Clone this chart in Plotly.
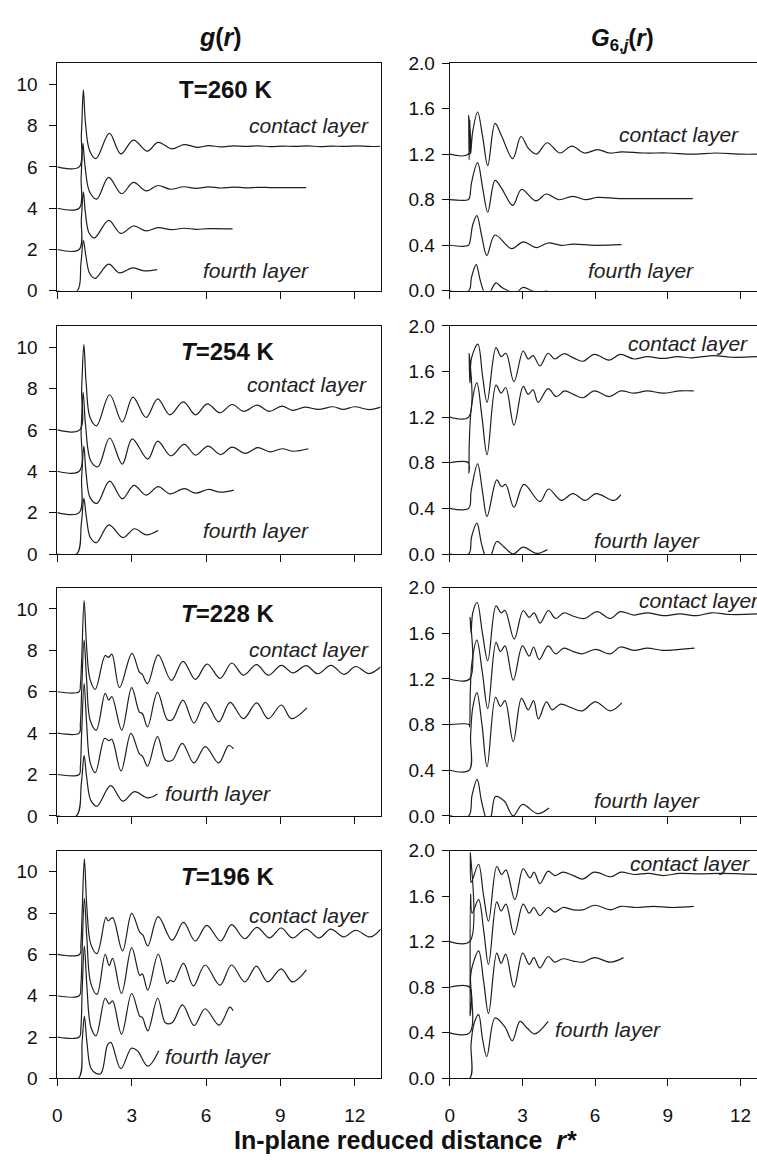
import plotly.graph_objects as go

# ---------------------------------------------------------------------------
# In-plane structure of the water layers at four temperatures.
# Left column: radial distribution g(r) (layers shifted by 0, 2, 4, 6).
# Right column: bond-orientational correlation G6,j(r) (shifted by 0, .4, .8, 1.2).
# Each curve is a list of (r*, shifted value) points.
# ---------------------------------------------------------------------------

temperatures = ["260", "254", "228", "196"]
x_ticks = [0, 3, 6, 9, 12]
g_ticks = [0, 2, 4, 6, 8, 10]
G6_ticks = [0.0, 0.4, 0.8, 1.2, 1.6, 2.0]

# ---- T = 260 K -------------------------------------------------------------
g260_contact = [(0, 6), (0.88, 6), (0.97, 7.6), (1.05, 9.73), (1.13, 8.2), (1.3, 6.8), (1.56, 6.4),
                (2.1, 7.62), (2.56, 6.63), (3.07, 7.3), (3.63, 6.76), (4.06, 7.19), (4.63, 6.87),
                (5.1, 7.08), (5.64, 6.95), (6.1, 7.03), (6.6, 6.97), (7.1, 7.02), (7.6, 6.99),
                (8.1, 7.02), (8.6, 6.98), (9.1, 7.01), (9.6, 6.99), (10.1, 7.02), (10.6, 6.98),
                (11.1, 7.01), (11.6, 6.99), (12.1, 7.02), (12.6, 6.99), (13.05, 7.0)]
g260_second = [(0, 4), (0.88, 4), (0.96, 5.5), (1.03, 7.14), (1.12, 6.0), (1.3, 4.8), (1.59, 4.44),
               (2.07, 5.49), (2.59, 4.7), (3.07, 5.25), (3.59, 4.84), (4.06, 5.1), (4.57, 4.92),
               (5.1, 5.04), (5.6, 4.96), (6.1, 5.03), (6.6, 4.98), (7.1, 5.02), (7.6, 4.99),
               (8.1, 5.01), (8.6, 5.0), (9.1, 5.0), (10.04, 5.0)]
g260_third = [(0, 2), (0.88, 2), (0.97, 3.5), (1.05, 4.78), (1.13, 3.8), (1.28, 2.8), (1.5, 2.56),
              (2.07, 3.41), (2.56, 2.78), (3.07, 3.14), (3.59, 2.9), (4.06, 3.06), (4.6, 2.96),
              (5.1, 3.03), (5.6, 2.98), (6.1, 3.01), (7.07, 3.0)]
g260_fourth = [(0, 0), (0.8, 0), (0.95, 1.3), (1.05, 2.43), (1.15, 1.7), (1.3, 0.85), (1.52, 0.6),
               (2.07, 1.29), (2.5, 0.87), (3.03, 1.11), (3.5, 0.97), (4.03, 1.03)]

G260_contact = [(0, 1.2), (0.76, 1.2), (0.78, 1.54), (0.8, 1.15), (0.83, 1.5), (0.86, 1.2), (0.95, 1.4),
                (1.15, 1.57), (1.36, 1.35), (1.57, 1.1), (1.87, 1.47), (2.14, 1.36), (2.6, 1.16),
                (2.94, 1.355), (3.25, 1.25), (3.58, 1.2), (4.02, 1.3), (4.54, 1.21), (5.04, 1.27),
                (5.56, 1.21), (6.1, 1.24), (6.6, 1.21), (7.1, 1.22), (8, 1.21), (9, 1.21), (10, 1.2),
                (11, 1.21), (12, 1.2), (12.7, 1.2)]
G260_second = [(0, 0.8), (0.76, 0.8), (0.82, 0.82), (0.9, 0.95), (1.15, 1.125), (1.36, 0.9), (1.57, 0.69),
               (1.87, 0.97), (2.14, 0.9), (2.6, 0.75), (2.96, 0.89), (3.55, 0.79), (3.99, 0.85),
               (4.5, 0.8), (5.08, 0.83), (5.6, 0.8), (6.1, 0.82), (7, 0.81), (8, 0.81), (9, 0.81),
               (10.03, 0.81)]
G260_third = [(0, 0.4), (0.77, 0.4), (0.85, 0.45), (0.95, 0.58), (1.12, 0.66), (1.32, 0.48), (1.53, 0.31),
              (1.87, 0.49), (2.55, 0.37), (3.03, 0.43), (3.58, 0.38), (4.06, 0.42), (4.6, 0.4),
              (5.1, 0.41), (6, 0.4), (7.09, 0.405)]
G260_fourth = [(0, 0), (0.78, 0), (0.9, 0.12), (1.09, 0.23), (1.25, 0.1), (1.39, 0.0), (1.55, -0.08),
               (1.7, 0.0), (1.91, 0.07), (2.15, 0.03), (2.42, 0.0), (2.7, -0.02), (3.03, 0.03),
               (3.4, 0.0), (3.7, -0.01), (4.02, 0.0)]

# ---- T = 254 K -------------------------------------------------------------
g254_contact = [(0, 6), (0.9, 6), (0.98, 8.0), (1.07, 10.13), (1.16, 8.3), (1.32, 6.6), (1.58, 6.2),
                (2.11, 7.7), (2.62, 6.39), (3.05, 7.59), (3.58, 6.6), (4.05, 7.5), (4.54, 6.73),
                (5.08, 7.36), (5.58, 6.73), (6.05, 7.26), (6.56, 6.83), (7.05, 7.23), (7.52, 6.9),
                (8.06, 7.2), (8.55, 6.9), (9.06, 7.15), (9.5, 6.95), (9.99, 7.1), (10.53, 6.99),
                (11.13, 7.12), (11.53, 6.99), (12.0, 7.12), (12.6, 6.98), (13.05, 7.1)]
g254_second = [(0, 4), (0.88, 4), (0.96, 6.0), (1.04, 7.82), (1.14, 6.2), (1.35, 4.5), (1.64, 4.22),
               (2.11, 5.61), (2.62, 4.35), (3.02, 5.57), (3.65, 4.59), (4.05, 5.46), (4.58, 4.75),
               (5.12, 5.3), (5.58, 4.78), (6.08, 5.22), (6.59, 4.81), (7.05, 5.17), (7.59, 4.87),
               (8.08, 5.14), (8.59, 4.94), (9.06, 5.09), (9.53, 4.97), (10.13, 5.09)]
g254_third = [(0, 2), (0.88, 2), (0.98, 3.7), (1.07, 5.22), (1.16, 3.9), (1.33, 2.7), (1.6, 2.45),
              (2.11, 3.52), (2.62, 2.67), (3.09, 3.32), (3.58, 2.85), (4.07, 3.26), (4.54, 2.91),
              (5.12, 3.16), (5.58, 2.94), (6.08, 3.12), (6.59, 2.99), (7.12, 3.09)]
g254_fourth = [(0, 0), (0.78, 0), (0.97, 1.5), (1.07, 2.69), (1.17, 1.8), (1.33, 0.8), (1.58, 0.55),
               (2.08, 1.41), (2.65, 0.79), (3.11, 1.22), (3.58, 0.93), (4.07, 1.14)]

G254_contact = [(0, 1.2), (0.78, 1.2), (0.8, 1.76), (0.83, 1.5), (0.9, 1.72), (1.16, 1.84), (1.36, 1.55),
                (1.54, 1.33), (1.91, 1.81), (2.12, 1.73), (2.32, 1.76), (2.65, 1.51), (3.03, 1.78),
                (3.24, 1.71), (3.44, 1.74), (3.72, 1.65), (4.06, 1.76), (4.33, 1.71), (4.7, 1.756),
                (5.1, 1.72), (5.49, 1.69), (5.97, 1.75), (6.58, 1.70), (7.04, 1.75), (7.6, 1.71),
                (8.15, 1.73), (8.8, 1.715), (9.4, 1.73), (10.0, 1.72), (10.9, 1.74), (11.6, 1.725),
                (12.7, 1.73)]
G254_second = [(0, 0.8), (0.77, 0.8), (0.79, 0.71), (0.81, 1.0), (0.9, 1.3), (1.12, 1.5), (1.33, 1.2),
               (1.54, 0.87), (1.91, 1.48), (2.12, 1.41), (2.31, 1.46), (2.65, 1.13), (3.03, 1.47),
               (3.24, 1.4), (3.44, 1.44), (3.65, 1.33), (4.06, 1.45), (4.4, 1.38), (4.74, 1.43),
               (5.1, 1.4), (5.49, 1.37), (5.97, 1.43), (6.58, 1.38), (7.06, 1.43), (7.6, 1.41),
               (8.15, 1.43), (8.8, 1.41), (9.5, 1.43), (10.07, 1.43)]
G254_third = [(0, 0.4), (0.78, 0.4), (0.88, 0.55), (1.15, 0.79), (1.35, 0.55), (1.54, 0.33), (1.94, 0.65),
              (2.14, 0.59), (2.31, 0.61), (2.65, 0.41), (3.06, 0.61), (3.72, 0.46), (4.08, 0.57),
              (4.6, 0.47), (5.08, 0.53), (5.59, 0.47), (6.04, 0.53), (6.79, 0.47), (7.06, 0.52)]
G254_fourth = [(0, 0), (0.78, 0), (0.9, 0.15), (1.12, 0.27), (1.3, 0.1), (1.43, 0.0), (1.58, -0.06),
               (1.73, 0.0), (1.94, 0.11), (2.25, 0.06), (2.62, 0.0), (3.03, 0.06), (3.58, 0.005),
               (4.03, 0.04)]

# ---- T = 228 K -------------------------------------------------------------
g228_contact = [(0, 6), (0.88, 6), (0.93, 6.36), (0.98, 7.5), (1.08, 10.4), (1.18, 8.2), (1.32, 6.6),
                (1.53, 6.12), (1.93, 7.75), (2.07, 7.66), (2.2, 7.82), (2.51, 6.2), (3.01, 7.86),
                (3.31, 6.95), (3.42, 6.85), (3.64, 6.39), (4.07, 7.78), (4.6, 6.55), (5.07, 7.47),
                (5.57, 6.6), (6.04, 7.34), (6.57, 6.65), (7.04, 7.39), (7.51, 6.8), (8.04, 7.31),
                (8.51, 6.8), (9.04, 7.28), (9.51, 6.91), (10.04, 7.26), (10.51, 6.87), (11.04, 7.28),
                (11.57, 6.84), (12.04, 7.22), (12.57, 6.88), (13.04, 7.2)]
g228_second = [(0, 4), (0.88, 4), (0.93, 4.46), (0.98, 6.0), (1.08, 8.5), (1.18, 6.6), (1.33, 4.6),
               (1.57, 4.15), (1.93, 5.92), (2.07, 5.6), (2.2, 5.76), (2.6, 4.15), (3.0, 6.2),
               (3.31, 5.02), (3.43, 4.95), (3.64, 4.3), (4.04, 5.97), (4.44, 4.65), (4.64, 4.65),
               (5.07, 5.6), (5.51, 4.49), (5.97, 5.49), (6.51, 4.54), (6.97, 5.49), (7.51, 4.7),
               (8.04, 5.46), (8.51, 4.7), (9.04, 5.36), (9.44, 4.7), (10.07, 5.22)]
g228_third = [(0, 2), (0.88, 2), (0.93, 2.4), (0.98, 4.0), (1.08, 6.4), (1.18, 4.5), (1.32, 2.6),
              (1.53, 2.09), (1.91, 3.75), (2.07, 3.64), (2.2, 3.7), (2.57, 2.17), (2.97, 3.99),
              (3.31, 3.0), (3.44, 2.88), (3.64, 2.4), (4.04, 3.83), (4.37, 2.69), (4.64, 2.69),
              (5.04, 3.51), (5.51, 2.56), (5.97, 3.35), (6.51, 2.56), (6.91, 3.4), (7.11, 3.24)]
g228_fourth = [(0, 0), (0.77, 0), (0.97, 1.6), (1.08, 2.91), (1.18, 1.9), (1.35, 0.75), (1.6, 0.47),
               (2.15, 1.46), (2.64, 0.71), (3.11, 1.17), (3.64, 0.87), (4.04, 1.06)]

G228_contact = [(0, 1.2), (0.82, 1.2), (0.84, 1.74), (0.88, 1.6), (0.95, 1.78), (1.13, 1.87), (1.35, 1.6),
                (1.57, 1.36), (1.91, 1.84), (2.12, 1.78), (2.28, 1.8), (2.66, 1.55), (3.03, 1.8),
                (3.28, 1.74), (3.48, 1.78), (3.73, 1.69), (4.07, 1.8), (4.37, 1.73), (4.71, 1.78),
                (5.1, 1.75), (5.56, 1.73), (6.08, 1.79), (6.63, 1.73), (7.04, 1.79), (7.6, 1.76),
                (8.15, 1.78), (8.8, 1.755), (9.5, 1.77), (10.2, 1.755), (10.8, 1.78), (11.6, 1.765),
                (12.7, 1.77)]
G228_second = [(0, 0.8), (0.8, 0.8), (0.82, 0.78), (0.85, 1.1), (0.92, 1.35), (1.12, 1.54), (1.35, 1.25),
               (1.57, 0.94), (1.91, 1.52), (2.09, 1.44), (2.28, 1.49), (2.62, 1.19), (3.0, 1.49),
               (3.28, 1.4), (3.46, 1.48), (3.69, 1.37), (4.06, 1.49), (4.37, 1.42), (4.71, 1.47),
               (5.1, 1.44), (5.46, 1.42), (6.01, 1.46), (6.63, 1.42), (7.04, 1.48), (7.6, 1.45),
               (8.15, 1.47), (8.8, 1.45), (9.5, 1.46), (10.1, 1.47)]
G228_third = [(0, 0.4), (0.8, 0.4), (0.86, 0.7), (0.95, 0.95), (1.12, 1.08), (1.33, 0.8), (1.54, 0.43),
              (1.89, 1.04), (2.09, 0.96), (2.28, 1.01), (2.62, 0.65), (2.96, 1.03), (3.24, 0.93),
              (3.46, 1.01), (3.66, 0.85), (3.99, 1.0), (4.23, 0.93), (4.58, 0.98), (5.0, 0.95),
              (5.46, 0.92), (6.01, 1.0), (6.63, 0.92), (7.1, 0.99)]
G228_fourth = [(0, 0), (0.78, 0), (0.92, 0.18), (1.13, 0.32), (1.3, 0.14), (1.46, 0.0), (1.58, -0.06),
               (1.71, 0.0), (1.89, 0.17), (2.25, 0.13), (2.62, 0.0), (3.0, 0.1), (3.62, 0.02),
               (4.1, 0.07)]

# ---- T = 196 K -------------------------------------------------------------
g196_contact = [(0, 6), (0.9, 6), (0.95, 6.49), (1.0, 8.0), (1.09, 10.63), (1.19, 8.3), (1.35, 6.5),
                (1.6, 6.04), (1.96, 7.8), (2.05, 7.63), (2.23, 7.78), (2.63, 6.17), (3.0, 7.99),
                (3.33, 7.07), (3.45, 6.95), (3.65, 6.41), (4.07, 7.83), (4.63, 6.69), (5.09, 7.55),
                (5.56, 6.65), (6.03, 7.41), (6.59, 6.65), (7.03, 7.44), (7.56, 6.76), (8.05, 7.31),
                (8.56, 6.8), (9.03, 7.28), (9.49, 6.8), (10.03, 7.23), (10.56, 6.8), (11.03, 7.23),
                (11.56, 6.85), (12.03, 7.17), (12.63, 6.85), (13.05, 7.23)]
g196_second = [(0, 4), (0.88, 4), (0.95, 4.51), (1.0, 6.2), (1.09, 8.7), (1.19, 6.8), (1.35, 4.6),
               (1.6, 4.07), (1.93, 6.01), (2.09, 5.46), (2.23, 5.81), (2.59, 4.11), (3.0, 6.33),
               (3.33, 4.98), (3.43, 5.06), (3.65, 4.27), (4.07, 6.01), (4.43, 4.59), (4.56, 4.75),
               (4.7, 4.68), (5.09, 5.57), (5.49, 4.48), (5.96, 5.49), (6.56, 4.51), (7.03, 5.49),
               (7.56, 4.67), (8.03, 5.43), (8.49, 4.67), (9.03, 5.3), (9.49, 4.67), (10.05, 5.25)]
g196_third = [(0, 2), (0.88, 2), (0.95, 2.46), (1.0, 4.2), (1.09, 6.4), (1.19, 4.5), (1.35, 2.5),
              (1.56, 2.06), (1.93, 3.88), (2.09, 3.6), (2.23, 3.75), (2.59, 2.14), (3.0, 4.11),
              (3.33, 3.0), (3.43, 2.95), (3.65, 2.3), (4.05, 3.88), (4.36, 2.69), (4.63, 2.69),
              (5.05, 3.56), (5.52, 2.56), (5.96, 3.37), (6.53, 2.58), (6.96, 3.45), (7.09, 3.28)]
g196_fourth = [(0, 0), (0.85, 0), (1.0, 1.8), (1.09, 3.0), (1.19, 1.8), (1.35, 0.5), (1.56, 0.24),
               (1.76, 0.24), (2.03, 1.63), (2.16, 1.74), (2.56, 0.47), (2.99, 1.46), (3.23, 1.34),
               (3.65, 0.59), (4.09, 1.34)]

G196_contact = [(0, 1.2), (0.82, 1.2), (0.85, 1.98), (0.88, 1.72), (0.95, 1.75), (1.19, 1.88), (1.4, 1.6),
                (1.6, 1.38), (1.94, 1.86), (2.14, 1.79), (2.32, 1.83), (2.69, 1.57), (3.03, 1.84),
                (3.31, 1.76), (3.48, 1.81), (3.72, 1.71), (4.06, 1.82), (4.33, 1.78), (4.67, 1.81),
                (5.1, 1.78), (5.49, 1.75), (5.97, 1.81), (6.65, 1.77), (7.06, 1.81), (7.6, 1.79),
                (8.2, 1.8), (8.8, 1.78), (9.5, 1.8), (10.3, 1.795), (11.2, 1.8), (12.7, 1.79)]
G196_second = [(0, 0.8), (0.82, 0.8), (0.84, 0.55), (0.86, 1.62), (0.92, 1.45), (1.19, 1.57), (1.4, 1.3),
               (1.6, 1.0), (1.94, 1.55), (2.12, 1.47), (2.32, 1.53), (2.66, 1.26), (3.03, 1.53),
               (3.28, 1.45), (3.47, 1.5), (3.72, 1.43), (4.06, 1.5), (4.33, 1.46), (4.67, 1.5),
               (5.1, 1.48), (5.49, 1.48), (5.97, 1.52), (6.65, 1.48), (7.06, 1.51), (7.7, 1.5),
               (8.4, 1.51), (9.2, 1.5), (10.07, 1.51)]
G196_third = [(0, 0.4), (0.82, 0.4), (0.86, 0.9), (0.95, 1.0), (1.19, 1.12), (1.4, 0.85), (1.6, 0.57),
              (1.94, 1.1), (2.12, 1.01), (2.31, 1.09), (2.65, 0.8), (3.01, 1.1), (3.28, 1.0),
              (3.47, 1.06), (3.72, 0.97), (4.06, 1.07), (4.33, 1.02), (4.67, 1.05), (5.1, 1.03),
              (5.49, 1.02), (5.97, 1.06), (6.63, 1.02), (7.17, 1.06)]
G196_fourth = [(0, 0), (0.82, 0), (0.88, 0.3), (1.0, 0.48), (1.19, 0.56), (1.35, 0.35), (1.53, 0.19),
               (1.87, 0.53), (2.28, 0.45), (2.58, 0.33), (2.9, 0.5), (3.2, 0.44), (3.51, 0.39),
               (4.06, 0.5)]

g_curves = [
    [g260_contact, g260_second, g260_third, g260_fourth],
    [g254_contact, g254_second, g254_third, g254_fourth],
    [g228_contact, g228_second, g228_third, g228_fourth],
    [g196_contact, g196_second, g196_third, g196_fourth],
]
G6_curves = [
    [G260_contact, G260_second, G260_third, G260_fourth],
    [G254_contact, G254_second, G254_third, G254_fourth],
    [G228_contact, G228_second, G228_third, G228_fourth],
    [G196_contact, G196_second, G196_third, G196_fourth],
]

# panel labels: (r, value) anchor of each text
temp_label_pos = [(6.8, 9.76), (6.87, 9.81), (6.87, 9.76), (6.87, 9.78)]
g_contact_pos = [(10.17, 8.0), (10.07, 8.18), (10.17, 8.02), (10.17, 7.9)]
g_fourth_pos = [(8.0, 0.97), (8.0, 1.14), (6.49, 1.06), (6.49, 1.07)]
G6_contact_pos = [(9.46, 1.37), (9.83, 1.85), (10.3, 1.89), (9.93, 1.89)]
G6_fourth_pos = [(7.9, 0.18), (8.15, 0.12), (8.15, 0.135), (6.53, 0.43)]

# ---------------------------------------------------------------------------
W, H = 757, 1164
FONT = "Liberation Sans, Arial, Helvetica, sans-serif"
INK = "#111111"
LINE = "#1e1e1e"

# panel frames in pixels: (top, bottom) per row; (left, right) per column
row_px = [(54, 286), (321.7, 554), (588.3, 820.7), (856, 1088)]
col_px = [(52.7, 378), (447.7, 757)]
x_ranges = [[0, 13.04], [0, 12.68]]
y_ranges = [[0, 11.03], [0, 2.0]]

fig = go.Figure()
layout = {}

for r in range(4):
    for c in range(2):
        k = r * 2 + c + 1
        xa = "x" if k == 1 else f"x{k}"
        ya = "y" if k == 1 else f"y{k}"
        top, bot = row_px[r]
        left, right = col_px[c]
        bottom_row = r == 3

        layout[f"xaxis{k}"] = dict(
            domain=[left / W, right / W], anchor=ya, range=x_ranges[c],
            tickvals=x_ticks, ticks="outside", ticklen=7, tickwidth=1, tickcolor=INK,
            showticklabels=bottom_row, ticklabelstandoff=13,
            tickfont=dict(family=FONT, size=19, color=INK),
            showline=True, linecolor=INK, linewidth=1, mirror=True,
            showgrid=False, zeroline=False,
        )
        layout[f"yaxis{k}"] = dict(
            domain=[1 - bot / H, 1 - top / H], anchor=xa, range=y_ranges[c],
            tickvals=g_ticks if c == 0 else G6_ticks,
            tickformat="d" if c == 0 else ".1f",
            ticks="outside", ticklen=7, tickwidth=1, tickcolor=INK,
            ticklabelstandoff=8 if c == 0 else 3,
            tickfont=dict(family=FONT, size=19, color=INK),
            showline=True, linecolor=INK, linewidth=1, mirror=(c == 0),
            showgrid=False, zeroline=False,
        )

        curves = g_curves[r] if c == 0 else G6_curves[r]
        for pts in curves:
            fig.add_trace(go.Scatter(
                x=[p[0] for p in pts], y=[p[1] for p in pts],
                mode="lines", xaxis=xa, yaxis=ya,
                line=dict(color=LINE, width=1.2, shape="spline", smoothing=1.0),
                hoverinfo="skip", showlegend=False,
            ))

annotations = []
for r in range(4):
    kx_l = "x" if r == 0 else f"x{r * 2 + 1}"
    ky_l = "y" if r == 0 else f"y{r * 2 + 1}"
    kx_r = f"x{r * 2 + 2}"
    ky_r = f"y{r * 2 + 2}"

    tsym = "T" if r == 0 else "<i>T</i>"
    tx, ty = temp_label_pos[r]
    annotations.append(dict(text=f"<b>{tsym}=%s K</b>" % temperatures[r], x=tx, y=ty,
                            xref=kx_l, yref=ky_l, showarrow=False,
                            xanchor="center", yanchor="middle",
                            font=dict(family=FONT, size=24, color=INK)))
    for (px, py), label, xr, yr in [
        (g_contact_pos[r], "contact layer", kx_l, ky_l),
        (g_fourth_pos[r], "fourth layer", kx_l, ky_l),
        (G6_contact_pos[r], "contact layer", kx_r, ky_r),
        (G6_fourth_pos[r], "fourth layer", kx_r, ky_r),
    ]:
        annotations.append(dict(text=f"<i>{label}</i>", x=px, y=py, xref=xr, yref=yr,
                                showarrow=False, xanchor="center", yanchor="middle",
                                font=dict(family=FONT, size=21, color="#222222")))

# column headings and shared axis title
annotations.append(dict(text="<b><i>g</i>(<i>r</i>)</b>", x=217 / W, y=1 - 28 / H,
                        xref="paper", yref="paper", showarrow=False,
                        xanchor="center", yanchor="middle",
                        font=dict(family=FONT, size=25, color=INK)))
annotations.append(dict(text="<b><i>G</i><sub>6,<i>j</i></sub>(<i>r</i>)</b>", x=622 / W, y=1 - 30 / H,
                        xref="paper", yref="paper", showarrow=False,
                        xanchor="center", yanchor="middle",
                        font=dict(family=FONT, size=24, color=INK)))
annotations.append(dict(text="<b>In-plane reduced distance  <i>r*</i></b>", x=403 / W, y=1 - 1151 / H,
                        xref="paper", yref="paper", showarrow=False,
                        xanchor="center", yanchor="middle",
                        font=dict(family=FONT, size=25, color=INK)))

fig.update_layout(
    width=W, height=H, margin=dict(l=0, r=0, t=0, b=0),
    paper_bgcolor="white", plot_bgcolor="white", showlegend=False,
    annotations=annotations, **layout,
)

fig.write_html("out.html")
